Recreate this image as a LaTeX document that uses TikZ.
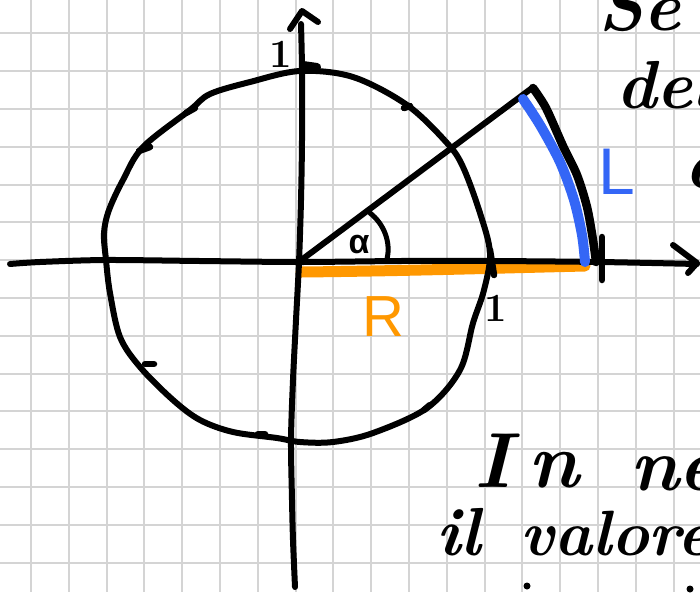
\documentclass[tikz,border=0pt]{standalone}
\usepackage{fontspec}
\newfontfamily\labsans{Liberation Sans}
\definecolor{gridc}{RGB}{212,212,212}
\definecolor{penblue}{RGB}{52,102,246}
\definecolor{penorange}{RGB}{255,152,0}
\begin{document}
\begin{tikzpicture}[x=1pt,y=-1pt,
  pen/.style={line width=6pt,line cap=round,line join=round,black},
  tickmark/.style={line width=6.5pt,line cap=round,black},
  hand/.style={font=\bfseries\itshape,inner sep=0pt,anchor=base west},
  gridline/.style={gridc,line width=2pt}]
\useasboundingbox (0,0) rectangle (700,592);
\clip (0,0) rectangle (700,592);
\fill[white] (0,0) rectangle (700,592);
% graph paper
\foreach \k in {0,...,17} \draw[gridline] ({30.9+37.8*\k},0) -- ({30.9+37.8*\k},592);
\foreach \k in {0,...,14} \draw[gridline] (0,{33.3+37.8*\k}) -- (700,{33.3+37.8*\k});
% named points
\coordinate (O) at (300,261);
\coordinate (P) at (532,88);
\coordinate (Rend) at (585,266);
\coordinate (Rstart) at (301,272);
% orange radius R
\draw[penorange,line width=11pt,line cap=round] (Rstart) .. controls (400,271) and (500,268) .. (Rend);
% x axis
\draw[pen] plot[smooth] coordinates {(10,264) (40,262) (106,260) (200,261) (300,262) (400,261) (490,261) (600,262) (697,264)};
\coordinate (xtip) at (697,263);
\draw[pen] (673,245) -- (xtip) -- (688,273);
% y axis
\draw[pen] plot[smooth] coordinates {(295,587) (293,540) (292,500) (291,440) (293,380) (296,320) (299,262) (301,200) (302,140) (302,70) (301,24)};
\coordinate (ytip) at (302,11);
\draw[pen] (290,29) -- (ytip) -- (318,22);
% circle
\draw[pen] plot[smooth cycle,tension=0.55] coordinates {
 (300,71) (353,77) (407,105) (447,143) (463,167) (480,213) (490,253) (484,290)
 (473,323) (460,370) (427,408) (373,433) (333,442) (300,442) (277,438) (233,432)
 (200,420) (173,400) (140,367) (120,337) (110,293) (106,260) (104,233) (109,210)
 (123,180) (143,147) (190,110) (210,94) (250,82)};
% ticks on circle and axes
\draw[tickmark,line width=8pt] (303,65) -- (317,67);
\draw[tickmark] (404,108) -- (410,106);
\draw[tickmark] (186,113) -- (195,108);
\draw[tickmark] (139,151) -- (150,147);
\draw[tickmark] (145,364) -- (154,364);
\draw[tickmark] (258,434) -- (265,434);
\draw[tickmark] (424,410) -- (430,405);
\draw[tickmark] (490,250) -- (494,275);
\draw[tickmark] (602,237) -- (602,280);
% radius line to arc end
\draw[pen] (O) -- (P);
% blue arc L
\draw[penblue,line width=10pt,line cap=round,line join=round] plot[smooth] coordinates {(523,99) (540,125) (560,162) (574,200) (582,235) (585,262)};
% outer black arc
\draw[pen,line width=8.5pt] plot[smooth] coordinates {(533,88) (546,108) (563,146) (577,175) (587,207) (593,240) (596,262)};
% angle alpha
\draw[pen,line width=5pt] (370,213) .. controls (384,224) and (391,242) .. (387,259);
\node[inner sep=0pt] (alpha) at (359,245) {\fontsize{34}{34}\selectfont\labsans\bfseries α};
% labels
\node[inner sep=0pt] (one-y) at (281,54) {\fontsize{40}{40}\selectfont\bfseries 1};
\node[inner sep=0pt] (one-x) at (496,308) {\fontsize{40}{40}\selectfont\bfseries 1};
\node[inner sep=0pt,text=penorange] (labR) at (383,317) {\fontsize{58}{58}\selectfont\labsans R};
\node[inner sep=0pt,text=penblue] (labL) at (617,172) {\fontsize{66}{66}\selectfont\labsans L};
% handwritten text (cut by the page edge)
\node[hand] (t1) at (598,30) {\fontsize{70}{70}\selectfont Se};
\node[hand] (t2) at (616,108) {\fontsize{68}{68}\selectfont del};
\node[hand] (t3) at (684,188) {\fontsize{72}{72}\selectfont c};
\node[hand] (t4) at (474,487) {\fontsize{78}{78}\selectfont I\kern18pt n};
\node[hand] (t5) at (630,490) {\fontsize{75}{75}\selectfont ne};
\node[hand] (t6) at (436,555) {\fontsize{68}{68}\selectfont il};
\node[hand] (t7) at (520,555) {\fontsize{64}{64}\selectfont valore};
\fill (527,586) circle (3.5);
\fill (690,589) circle (3.5);
\end{tikzpicture}
\end{document}
